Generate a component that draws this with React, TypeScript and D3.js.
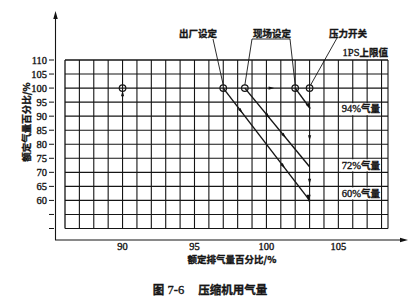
import React from "react";
import * as d3 from "d3";

const xTicks = [90, 95, 100, 105];
const xGrid = d3.range(87, 109, 1);
const yTicks = [60, 65, 70, 75, 80, 85, 90, 95, 100, 105, 110];
const yExtraTicks = [50, 55];
const yGrid = [50, 55, 60, 65, 70, 75, 80, 85, 90, 95, 100, 105, 110];
const pointX = [90, 97, 98.5, 102, 103];
const pointY = [100, 100, 100, 100, 100];
const lineStartX = [97, 98.5, 102];
const lineStartY = [100, 100, 100];
const lineEndX = [103, 103, 103];
const lineEndY = [60, 72, 93];
const levelLabels = ["94%气量", "72%气量", "60%气量"];
const levelY = [92.5, 72.5, 62.5];
const topLabels = ["出厂设定", "现场设定", "压力开关"];

const W = 420, H = 300;
const x = d3.scaleLinear().domain([86, 108.45]).range([65, 388]);
const y = d3.scaleLinear().domain([50, 110]).range([228.5, 60]);

const CJK = "'Noto Sans CJK SC', sans-serif";
const SERIF = "'Liberation Serif', 'DejaVu Serif', serif";

function Arrow({ cx, cy, angle, size = 5 }: { cx: number; cy: number; angle: number; size?: number }) {
  const path = d3.line()([[size, 0], [-size * 0.6, -size * 0.45], [-size * 0.6, size * 0.45]]) + "Z";
  return <path d={path} fill="#111" transform={`translate(${cx},${cy}) rotate(${angle})`} />;
}

export default function App() {
  const ink = "#151515";
  const bold = { stroke: ink, strokeWidth: 0.35 };
  const lines = lineStartX.map((_, i) => ({
    x1: x(lineStartX[i]), y1: y(lineStartY[i]), x2: x(lineEndX[i]), y2: y(lineEndY[i]),
  }));
  const ang = (l: any) => (Math.atan2(l.y2 - l.y1, l.x2 - l.x1) * 180) / Math.PI;
  const along = (l: any, t: number) => [l.x1 + (l.x2 - l.x1) * t, l.y1 + (l.y2 - l.y1) * t];
  const midArrows = [
    { li: 0, t: 0.2 }, { li: 0, t: 0.69 },
    { li: 1, t: 0.35 }, { li: 1, t: 0.6 },
  ];
  const x0 = x.range()[0], x1 = x.range()[1];
  return (
    <svg width={W} height={H} style={{ position: "absolute", left: 0, top: 0, background: "#fff" }}>
      <rect width={W} height={H} fill="#fff" />
      {/* grid */}
      {xGrid.map((v) => (
        <line key={"gx" + v} x1={x(v)} x2={x(v)} y1={y(110)} y2={y(50)} stroke={ink} strokeWidth={1.1} />
      ))}
      <line x1={x0} x2={x0} y1={y(110)} y2={y(50)} stroke={ink} strokeWidth={1.3} />
      <line x1={x1} x2={x1} y1={y(110)} y2={y(50)} stroke={ink} strokeWidth={1.1} />
      {yGrid.map((v) => (
        <line key={"gy" + v} x1={x0} x2={x1} y1={y(v)} y2={y(v)} stroke={ink} strokeWidth={v === 110 ? 1.4 : 1.1} />
      ))}
      {/* axes */}
      <line x1={55.5} x2={55.5} y1={240} y2={18} stroke={ink} strokeWidth={1.1} />
      <Arrow cx={55.5} cy={16} angle={-90} size={5} />
      <line x1={55} x2={400} y1={240} y2={240} stroke={ink} strokeWidth={1.1} />
      <Arrow cx={403} cy={240} angle={0} size={5} />
      {[...yTicks, ...yExtraTicks].map((v) => (
        <line key={"yt" + v} x1={49} x2={54} y1={y(v)} y2={y(v)} stroke={ink} strokeWidth={1} />
      ))}
      {yTicks.map((v) => (
        <text key={"yl" + v} x={47} y={y(v)} dy="0.35em" textAnchor="end" fontFamily={SERIF} fontSize={10.5} fill={ink} {...bold}>
          {v}
        </text>
      ))}
      {xTicks.map((v) => (
        <text key={"xl" + v} x={x(v)} y={250} textAnchor="middle" fontFamily={SERIF} fontSize={10.5} fill={ink} {...bold}>
          {v}
        </text>
      ))}
      <text x={232} y={263} textAnchor="middle" fontFamily={CJK} fontSize={9.5} fontWeight={700} fill={ink} {...bold}>
        额定排气量百分比/%
      </text>
      <text transform="translate(30,122) rotate(-90)" textAnchor="middle" fontFamily={CJK} fontSize={9.5} fontWeight={700} fill={ink} {...bold}>
        额定气量百分比/%
      </text>
      {/* data lines */}
      {lines.map((l, i) => (
        <line key={"dl" + i} x1={l.x1} y1={l.y1} x2={l.x2} y2={l.y2} stroke={ink} strokeWidth={1.4} />
      ))}
      {midArrows.map((a, i) => {
        const l = lines[a.li];
        const [px, py] = along(l, a.t);
        return <Arrow key={"ma" + i} cx={px} cy={py} angle={ang(l)} size={3.5} />;
      })}
      <Arrow cx={lines[2].x2 - 1} cy={lines[2].y2 - 2} angle={ang(lines[2])} size={4} />
      <Arrow cx={lines[0].x2 - 1} cy={lines[0].y2 - 3} angle={90} size={4.5} />
      <Arrow cx={x(103)} cy={y(82.5)} angle={90} size={3.5} />
      <Arrow cx={x(103)} cy={y(67)} angle={90} size={3.5} />
      <Arrow cx={x(100.3)} cy={y(100)} angle={0} size={3.5} />
      <Arrow cx={x(90)} cy={y(97.8)} angle={-90} size={3.5} />
      {/* points */}
      {pointX.map((v, i) => (
        <circle key={"p" + i} cx={x(v)} cy={y(pointY[i])} r={3.3} fill="none" stroke={ink} strokeWidth={1.2} />
      ))}
      {/* leaders */}
      <line x1={213} y1={39} x2={x(97)} y2={y(100) - 3} stroke={ink} strokeWidth={0.9} />
      <polyline
        points={`${x(98.5)},${y(100) - 3} 252,39 290,39 ${x(102)},${y(100) - 3}`}
        fill="none" stroke={ink} strokeWidth={0.9}
      />
      <line x1={337} y1={38} x2={x(103) + 1} y2={y(100) - 3} stroke={ink} strokeWidth={0.9} />
      {/* labels */}
      <text x={198} y={37} textAnchor="middle" fontFamily={CJK} fontSize={9.5} fontWeight={700} fill={ink} {...bold}>{topLabels[0]}</text>
      <text x={272} y={37} textAnchor="middle" fontFamily={CJK} fontSize={9.5} fontWeight={700} fill={ink} {...bold}>{topLabels[1]}</text>
      <text x={348} y={37} textAnchor="middle" fontFamily={CJK} fontSize={9.5} fontWeight={700} fill={ink} {...bold}>{topLabels[2]}</text>
      <text x={388} y={56} textAnchor="end" fontFamily={CJK} fontSize={9.5} fontWeight={700} fill={ink} {...bold}>
        <tspan fontFamily={SERIF} fontWeight={400} fontSize={10.5}>1PS</tspan>上限值
      </text>
      {levelLabels.map((t, i) => {
        const cy = y(levelY[i]);
        return (
          <g key={"lv" + i}>
            <rect x={341} y={cy - 6} width={40} height={12} fill="#fff" />
            <text x={380} y={cy} dy="0.35em" textAnchor="end" fontFamily={CJK} fontSize={9.5} fontWeight={700} fill={ink} {...bold}>
              <tspan fontFamily={SERIF} fontWeight={400} fontSize={10.5}>{t.slice(0, 3)}</tspan>{t.slice(3)}
            </text>
          </g>
        );
      })}
      <text x={210} y={294} textAnchor="middle" fontFamily={CJK} fontSize={11.5} fontWeight={700} fill={ink} {...bold}>
        图<tspan fontFamily={SERIF} fontWeight={400} fontSize={12.5}> 7-6</tspan>
        <tspan dx={14}>压缩机用气量</tspan>
      </text>
    </svg>
  );
}
